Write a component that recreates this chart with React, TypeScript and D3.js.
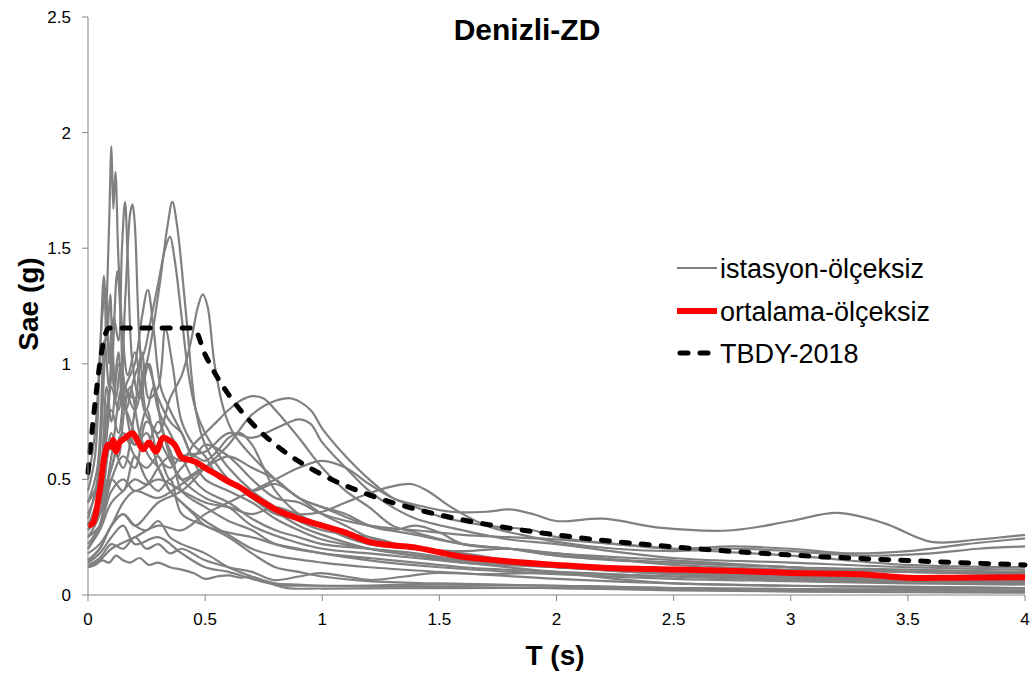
import React from "react";
import * as d3 from "d3";

// ---------- data ----------
const X_TICKS = [0, 0.5, 1, 1.5, 2, 2.5, 3, 3.5, 4];
const Y_TICKS = [0, 0.5, 1, 1.5, 2, 2.5];
const LEGEND_LABELS = ["istasyon-ölçeksiz", "ortalama-ölçeksiz", "TBDY-2018"];

// TBDY-2018 design spectrum
const T_TBDY = [0, 0.09, 0.45, 0.5, 0.55, 0.6, 0.7, 0.8, 0.9, 1.0, 1.2, 1.4, 1.6, 1.8, 2.0, 2.5, 3.0, 3.5, 4.0];
const SAE_TBDY = [0.53, 1.155, 1.155, 1.04, 0.945, 0.867, 0.743, 0.65, 0.578, 0.52, 0.433, 0.371, 0.325, 0.289, 0.26, 0.208, 0.173, 0.149, 0.13];

// mean (ortalama) spectrum
const T_MEAN = [0, 0.02, 0.05, 0.07, 0.085, 0.1, 0.107, 0.12, 0.135, 0.16, 0.19, 0.21, 0.235, 0.26, 0.29, 0.32, 0.345, 0.37, 0.4, 0.43, 0.46, 0.5, 0.55, 0.6, 0.65, 0.7, 0.75, 0.8, 0.9, 1.0, 1.1, 1.2, 1.3, 1.4, 1.5, 1.6, 1.8, 2.0, 2.2, 2.5, 2.8, 3.0, 3.3, 3.5, 3.7, 4.0];
const SAE_MEAN = [0.3, 0.31, 0.45, 0.6, 0.65, 0.64, 0.67, 0.62, 0.66, 0.68, 0.7, 0.67, 0.63, 0.66, 0.62, 0.68, 0.67, 0.65, 0.595, 0.585, 0.575, 0.55, 0.52, 0.49, 0.465, 0.43, 0.4, 0.37, 0.33, 0.3, 0.27, 0.23, 0.215, 0.205, 0.185, 0.165, 0.145, 0.13, 0.118, 0.11, 0.103, 0.095, 0.09, 0.075, 0.075, 0.077];

// station spectra [T, Sae]
const ST01 = [[0,0.33],[0.04,0.5],[0.07,1.0],[0.09,1.6],[0.1,1.94],[0.108,1.67],[0.117,1.83],[0.13,1.45],[0.15,1.1],[0.17,0.95],[0.2,1.05],[0.24,0.8],[0.28,0.72],[0.33,0.62],[0.4,0.5],[0.5,0.42],[0.6,0.38],[0.7,0.3],[0.85,0.24],[1.0,0.2],[1.2,0.18],[1.4,0.16],[1.7,0.13],[2.0,0.1],[2.5,0.08],[3.0,0.065],[3.5,0.055],[4.0,0.05]];
const ST02 = [[0,0.3],[0.05,0.45],[0.08,0.8],[0.1,0.95],[0.125,1.4],[0.14,1.2],[0.16,0.9],[0.2,0.85],[0.25,1.0],[0.3,1.3],[0.34,1.6],[0.36,1.7],[0.38,1.6],[0.42,1.2],[0.46,0.8],[0.5,0.65],[0.6,0.5],[0.7,0.42],[0.8,0.35],[0.9,0.33],[1.0,0.3],[1.2,0.22],[1.4,0.2],[1.6,0.17],[2.0,0.13],[2.5,0.1],[3.0,0.09],[3.5,0.08],[4.0,0.07]];
const ST03 = [[0,0.28],[0.05,0.4],[0.08,0.7],[0.1,0.9],[0.13,0.8],[0.16,1.3],[0.18,1.65],[0.19,1.69],[0.2,1.6],[0.22,1.1],[0.25,0.8],[0.28,0.9],[0.32,0.7],[0.36,0.6],[0.4,0.45],[0.5,0.38],[0.6,0.32],[0.7,0.28],[0.8,0.22],[1.0,0.18],[1.2,0.15],[1.5,0.12],[2.0,0.09],[2.5,0.07],[3.0,0.06],[3.5,0.05],[4.0,0.045]];
const ST04 = [[0,0.4],[0.04,0.55],[0.07,1.1],[0.09,0.9],[0.11,1.2],[0.13,1.1],[0.145,1.5],[0.158,1.7],[0.17,1.45],[0.19,1.0],[0.22,0.85],[0.26,1.0],[0.3,0.8],[0.35,0.7],[0.4,0.6],[0.45,0.5],[0.5,0.45],[0.6,0.4],[0.7,0.33],[0.8,0.28],[0.9,0.25],[1.0,0.22],[1.2,0.2],[1.4,0.18],[1.6,0.15],[2.0,0.12],[2.5,0.1],[3.0,0.085],[3.5,0.07],[4.0,0.06]];
const ST05 = [[0,0.35],[0.05,0.5],[0.08,0.9],[0.1,0.75],[0.13,1.0],[0.16,0.8],[0.2,0.95],[0.24,1.05],[0.27,1.2],[0.3,1.35],[0.33,1.5],[0.35,1.55],[0.37,1.45],[0.4,1.2],[0.43,0.95],[0.46,0.8],[0.5,0.7],[0.55,0.62],[0.6,0.55],[0.7,0.45],[0.8,0.38],[0.9,0.32],[1.0,0.28],[1.2,0.25],[1.4,0.2],[1.6,0.17],[1.8,0.15],[2.0,0.13],[2.5,0.11],[3.0,0.09],[3.5,0.08],[4.0,0.07]];
const ST06 = [[0,0.22],[0.05,0.3],[0.1,0.5],[0.15,0.6],[0.2,0.55],[0.25,0.75],[0.3,0.7],[0.35,0.85],[0.4,0.95],[0.44,1.1],[0.47,1.25],[0.49,1.3],[0.51,1.25],[0.54,1.0],[0.58,0.8],[0.62,0.7],[0.7,0.6],[0.8,0.5],[0.9,0.42],[1.0,0.38],[1.2,0.3],[1.4,0.26],[1.6,0.22],[1.8,0.2],[2.0,0.18],[2.5,0.13],[3.0,0.11],[3.5,0.1],[4.0,0.09]];
const ST07 = [[0,0.45],[0.03,0.6],[0.05,1.0],[0.068,1.38],[0.08,1.1],[0.095,1.3],[0.11,0.9],[0.13,1.05],[0.15,0.8],[0.18,0.9],[0.22,0.7],[0.26,0.6],[0.3,0.55],[0.35,0.45],[0.4,0.4],[0.5,0.32],[0.6,0.26],[0.7,0.2],[0.8,0.17],[1.0,0.14],[1.2,0.12],[1.5,0.1],[2.0,0.07],[2.5,0.05],[3.0,0.04],[3.5,0.035],[4.0,0.03]];
const ST08 = [[0,0.2],[0.05,0.28],[0.1,0.4],[0.15,0.45],[0.2,0.5],[0.25,0.48],[0.3,0.55],[0.35,0.6],[0.4,0.58],[0.45,0.65],[0.5,0.7],[0.55,0.75],[0.6,0.8],[0.65,0.84],[0.7,0.86],[0.75,0.85],[0.8,0.8],[0.9,0.68],[1.0,0.55],[1.1,0.45],[1.2,0.38],[1.3,0.3],[1.4,0.27],[1.6,0.22],[1.8,0.2],[2.0,0.17],[2.5,0.14],[3.0,0.12],[3.5,0.1],[4.0,0.09]];
const ST09 = [[0,0.15],[0.05,0.2],[0.1,0.3],[0.15,0.35],[0.2,0.3],[0.3,0.4],[0.4,0.45],[0.5,0.55],[0.6,0.65],[0.7,0.78],[0.8,0.84],[0.87,0.85],[0.95,0.8],[1.0,0.72],[1.1,0.6],[1.2,0.5],[1.3,0.42],[1.4,0.38],[1.5,0.34],[1.7,0.3],[1.9,0.28],[2.0,0.25],[2.5,0.2],[3.0,0.17],[3.5,0.13],[4.0,0.12]];
const ST10 = [[0,0.3],[0.05,0.4],[0.1,0.55],[0.15,0.7],[0.2,0.65],[0.25,0.8],[0.3,0.6],[0.35,0.55],[0.4,0.6],[0.5,0.62],[0.6,0.7],[0.7,0.68],[0.8,0.72],[0.9,0.76],[0.95,0.74],[1.0,0.66],[1.1,0.55],[1.2,0.45],[1.3,0.38],[1.4,0.33],[1.6,0.28],[1.8,0.24],[2.0,0.22],[2.5,0.16],[3.0,0.14],[3.5,0.12],[4.0,0.11]];
const ST11 = [[0,0.12],[0.05,0.15],[0.1,0.2],[0.2,0.25],[0.3,0.3],[0.4,0.28],[0.5,0.35],[0.6,0.4],[0.7,0.45],[0.8,0.5],[0.9,0.55],[1.0,0.58],[1.1,0.55],[1.2,0.48],[1.3,0.42],[1.4,0.39],[1.55,0.36],[1.7,0.36],[1.8,0.37],[1.9,0.35],[2.0,0.32],[2.2,0.33],[2.45,0.29],[2.75,0.28],[3.0,0.32],[3.2,0.355],[3.4,0.31],[3.6,0.23],[3.8,0.24],[4.0,0.26]];
const ST12 = [[0,0.25],[0.05,0.3],[0.1,0.45],[0.15,0.5],[0.2,0.45],[0.3,0.5],[0.4,0.45],[0.5,0.4],[0.6,0.38],[0.7,0.35],[0.8,0.38],[0.9,0.35],[1.0,0.36],[1.1,0.4],[1.2,0.44],[1.3,0.47],[1.38,0.48],[1.45,0.45],[1.55,0.38],[1.7,0.3],[1.9,0.25],[2.0,0.23],[2.25,0.2],[2.5,0.19],[2.75,0.2],[3.0,0.19],[3.3,0.17],[3.6,0.18],[3.8,0.2],[4.0,0.21]];
const ST13 = [[0,0.3],[0.05,0.35],[0.1,0.6],[0.15,0.9],[0.2,0.8],[0.25,1.0],[0.3,0.85],[0.35,0.75],[0.4,0.7],[0.45,0.6],[0.5,0.65],[0.6,0.6],[0.7,0.5],[0.8,0.42],[0.9,0.4],[1.0,0.35],[1.2,0.3],[1.4,0.28],[1.6,0.26],[1.8,0.25],[2.0,0.24],[2.25,0.22],[2.5,0.2],[2.75,0.21],[3.0,0.2],[3.25,0.18],[3.5,0.19],[3.75,0.22],[4.0,0.245]];
const ST14 = [[0,0.12],[0.03,0.13],[0.06,0.15],[0.09,0.14],[0.12,0.17],[0.15,0.15],[0.18,0.14],[0.22,0.16],[0.26,0.13],[0.3,0.14],[0.35,0.12],[0.4,0.11],[0.45,0.095],[0.5,0.07],[0.55,0.08],[0.6,0.085],[0.65,0.075],[0.7,0.078],[0.78,0.05],[0.85,0.03],[1.0,0.028],[1.5,0.03],[2.0,0.03],[2.5,0.025],[3.0,0.022],[3.5,0.02],[4.0,0.02]];
const ST15 = [[0,0.13],[0.05,0.16],[0.1,0.22],[0.15,0.2],[0.2,0.25],[0.25,0.2],[0.3,0.22],[0.35,0.18],[0.4,0.2],[0.5,0.15],[0.6,0.12],[0.7,0.1],[0.79,0.065],[0.9,0.08],[0.99,0.095],[1.1,0.08],[1.2,0.065],[1.35,0.08],[1.47,0.095],[1.7,0.09],[2.0,0.095],[2.25,0.07],[2.5,0.05],[3.0,0.04],[3.5,0.035],[4.0,0.03]];
const ST16 = [[0,0.2],[0.05,0.3],[0.1,0.5],[0.15,0.45],[0.2,0.6],[0.25,0.5],[0.3,0.45],[0.35,0.5],[0.4,0.35],[0.5,0.3],[0.6,0.25],[0.7,0.18],[0.8,0.12],[0.9,0.1],[1.0,0.08],[1.2,0.06],[1.5,0.05],[2.0,0.04],[2.5,0.03],[3.0,0.025],[3.5,0.02],[4.0,0.018]];
const ST17 = [[0,0.25],[0.05,0.35],[0.1,0.7],[0.13,0.6],[0.16,0.8],[0.2,0.7],[0.25,0.65],[0.3,0.75],[0.35,0.6],[0.4,0.5],[0.5,0.55],[0.6,0.5],[0.7,0.45],[0.8,0.48],[0.9,0.42],[1.0,0.35],[1.1,0.3],[1.2,0.25],[1.4,0.2],[1.6,0.18],[1.8,0.15],[2.0,0.13],[2.5,0.1],[3.0,0.08],[3.5,0.07],[4.0,0.065]];
const ST18 = [[0,0.4],[0.05,0.5],[0.1,0.8],[0.13,0.7],[0.16,0.9],[0.2,1.0],[0.23,1.2],[0.255,1.32],[0.28,1.15],[0.31,0.9],[0.35,0.8],[0.4,0.7],[0.45,0.58],[0.5,0.5],[0.6,0.45],[0.7,0.4],[0.8,0.33],[0.9,0.28],[1.0,0.24],[1.2,0.2],[1.4,0.17],[1.6,0.14],[2.0,0.12],[2.5,0.09],[3.0,0.075],[3.5,0.065],[4.0,0.06]];
const ST19 = [[0,0.28],[0.05,0.35],[0.1,0.55],[0.15,0.7],[0.2,0.6],[0.25,0.55],[0.3,0.6],[0.35,0.5],[0.4,0.55],[0.45,0.6],[0.5,0.58],[0.55,0.62],[0.6,0.68],[0.65,0.7],[0.7,0.65],[0.75,0.55],[0.8,0.45],[0.9,0.35],[1.0,0.3],[1.1,0.25],[1.2,0.22],[1.4,0.2],[1.6,0.19],[1.8,0.2],[2.0,0.18],[2.5,0.15],[3.0,0.12],[3.5,0.1],[4.0,0.1]];
const ST20 = [[0,0.15],[0.05,0.2],[0.1,0.3],[0.15,0.35],[0.2,0.3],[0.25,0.28],[0.3,0.32],[0.35,0.25],[0.4,0.22],[0.5,0.18],[0.6,0.12],[0.7,0.08],[0.8,0.05],[0.9,0.045],[1.0,0.04],[1.5,0.035],[2.0,0.03],[2.5,0.02],[3.0,0.015],[3.5,0.012],[4.0,0.01]];
const ST21 = [[0,0.5],[0.03,0.7],[0.06,1.2],[0.075,1.33],[0.09,1.0],[0.1,1.15],[0.12,0.85],[0.14,1.0],[0.17,0.75],[0.2,0.65],[0.25,0.7],[0.3,0.55],[0.35,0.45],[0.4,0.4],[0.45,0.35],[0.5,0.3],[0.6,0.27],[0.7,0.25],[0.8,0.22],[0.9,0.2],[1.0,0.18],[1.2,0.16],[1.4,0.14],[1.6,0.12],[2.0,0.1],[2.5,0.08],[3.0,0.07],[3.5,0.06],[4.0,0.055]];
const ST22 = [[0,0.18],[0.05,0.22],[0.1,0.3],[0.15,0.4],[0.2,0.45],[0.3,0.42],[0.4,0.48],[0.5,0.55],[0.6,0.6],[0.7,0.55],[0.8,0.5],[0.9,0.42],[1.0,0.38],[1.1,0.35],[1.2,0.3],[1.3,0.28],[1.4,0.3],[1.5,0.27],[1.6,0.22],[1.8,0.2],[2.0,0.17],[2.25,0.15],[2.5,0.14],[3.0,0.12],[3.5,0.11],[4.0,0.1]];
const ST23 = [[0,0.3],[0.05,0.4],[0.1,0.65],[0.15,0.55],[0.2,0.8],[0.23,1.05],[0.26,0.85],[0.3,0.9],[0.33,1.15],[0.36,1.0],[0.4,0.75],[0.45,0.65],[0.5,0.6],[0.55,0.52],[0.6,0.5],[0.7,0.42],[0.8,0.36],[0.9,0.3],[1.0,0.26],[1.2,0.2],[1.4,0.17],[1.6,0.15],[2.0,0.12],[2.5,0.09],[3.0,0.08],[3.5,0.07],[4.0,0.06]];
const ST24 = [[0,0.14],[0.05,0.18],[0.1,0.25],[0.15,0.3],[0.2,0.22],[0.3,0.25],[0.4,0.18],[0.5,0.12],[0.6,0.1],[0.7,0.07],[0.8,0.045],[1.0,0.04],[1.5,0.045],[2.0,0.04],[2.5,0.03],[3.0,0.025],[3.5,0.025],[4.0,0.03]];

const STATIONS = [ST01, ST02, ST03, ST04, ST05, ST06, ST07, ST08, ST09, ST10, ST11, ST12, ST13, ST14, ST15, ST16, ST17, ST18, ST19, ST20, ST21, ST22, ST23, ST24];

// ---------- chart ----------
const W = 1035;
const H = 678;
const FONT = "'Liberation Sans', Arial, sans-serif";

export default function App() {
  const x = d3.scaleLinear().domain([0, 4]).range([88, 1025]);
  const y = d3.scaleLinear().domain([0, 2.5]).range([595, 17]);

  const smooth = d3
    .line<number[]>()
    .x((d) => x(d[0]))
    .y((d) => y(d[1]))
    .curve(d3.curveCatmullRom.alpha(0.5));

  const mono = d3
    .line<number[]>()
    .x((d) => x(d[0]))
    .y((d) => y(d[1]))
    .curve(d3.curveMonotoneX);

  const meanPts = T_MEAN.map((t, i) => [t, SAE_MEAN[i]]);
  const tbdyPts = T_TBDY.map((t, i) => [t, SAE_TBDY[i]]);

  const legendY = [268, 311, 353];

  return (
    <svg
      width={W}
      height={H}
      style={{ position: "absolute", left: 0, top: 0, background: "#fff" }}
      fontFamily={FONT}
    >
      {/* title */}
      <text x={527} y={40} textAnchor="middle" fontSize={30} fontWeight="bold" fill="#000">
        Denizli-ZD
      </text>

      {/* station curves */}
      <g fill="none" stroke="#808080" strokeWidth={2.2} strokeLinejoin="round">
        {STATIONS.map((s, i) => (
          <path key={i} d={smooth(s) || ""} />
        ))}
      </g>

      {/* mean */}
      <path d={smooth(meanPts) || ""} fill="none" stroke="#ff0000" strokeWidth={6} strokeLinejoin="round" />

      {/* TBDY */}
      <path
        d={mono(tbdyPts) || ""}
        fill="none"
        stroke="#000"
        strokeWidth={5}
        strokeDasharray="8,12"
        strokeLinecap="round"
      />

      {/* axes */}
      <g stroke="#868686" strokeWidth={1}>
        <line x1={x(0)} x2={x(0)} y1={y(2.5)} y2={y(0)} />
        <line x1={x(0)} x2={x(4)} y1={y(0)} y2={y(0)} />
        {Y_TICKS.map((t) => (
          <line key={"yt" + t} x1={x(0) - 6} x2={x(0)} y1={y(t)} y2={y(t)} />
        ))}
        {X_TICKS.map((t) => (
          <line key={"xt" + t} x1={x(t)} x2={x(t)} y1={y(0)} y2={y(0) + 6} />
        ))}
      </g>
      {Y_TICKS.map((t) => (
        <text key={"yl" + t} x={71} y={y(t) + 6} textAnchor="end" fontSize={17} fill="#000">
          {String(t)}
        </text>
      ))}
      {X_TICKS.map((t) => (
        <text key={"xl" + t} x={x(t)} y={625} textAnchor="middle" fontSize={17} fill="#000">
          {String(t)}
        </text>
      ))}

      {/* axis titles */}
      <text x={555} y={665} textAnchor="middle" fontSize={28} fontWeight="bold" fill="#000">
        T (s)
      </text>
      <text
        transform={`translate(38,304) rotate(-90)`}
        textAnchor="middle"
        fontSize={28}
        fontWeight="bold"
        fill="#000"
      >
        Sae (g)
      </text>

      {/* legend */}
      <g>
        <line x1={677} x2={717} y1={legendY[0]} y2={legendY[0]} stroke="#808080" strokeWidth={2.2} />
        <line x1={677} x2={717} y1={legendY[1]} y2={legendY[1]} stroke="#ff0000" strokeWidth={6} />
        <line
          x1={680}
          x2={716}
          y1={legendY[2]}
          y2={legendY[2]}
          stroke="#000"
          strokeWidth={5}
          strokeDasharray="8,12"
          strokeLinecap="round"
        />
        {LEGEND_LABELS.map((l, i) => (
          <text key={l} x={720} y={legendY[i] + 10} fontSize={27} fill="#000">
            {l}
          </text>
        ))}
      </g>
    </svg>
  );
}
